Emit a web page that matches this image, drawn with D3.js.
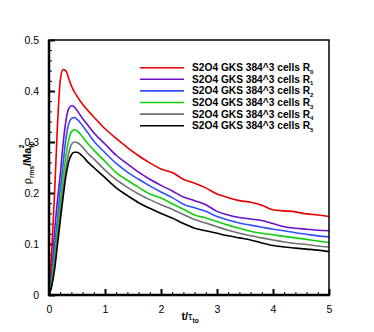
<!DOCTYPE html>
<html><head><meta charset="utf-8">
<script src="https://cdn.jsdelivr.net/npm/d3@7"></script>
<style>
body{margin:0;background:#fff;}
svg{display:block;font-family:"Liberation Sans",Arial,sans-serif;}
</style></head>
<body><svg id="c" width="374" height="332"></svg>
<script>
const tGrid = [0,0.05,0.1,0.15,0.2,0.25,0.3,0.35,0.4,0.45,0.5,0.6,0.7,0.8,1.0,1.2,1.4,1.6,1.8,2.0,2.2,2.4,2.6,2.8,3.0,3.2,3.4,3.6,3.8,4.0,4.2,4.4,4.6,4.8,5.0];
const R0 = [0,0.09,0.2,0.33,0.42,0.442,0.44,0.425,0.41,0.399,0.39,0.374,0.361,0.349,0.326,0.307,0.289,0.273,0.259,0.247,0.240,0.227,0.219,0.210,0.198,0.191,0.185,0.182,0.176,0.167,0.165,0.163,0.159,0.157,0.154];
const R1 = [0,0.045,0.125,0.185,0.235,0.295,0.34,0.365,0.371,0.369,0.362,0.346,0.332,0.318,0.296,0.274,0.257,0.241,0.227,0.215,0.204,0.192,0.185,0.177,0.164,0.157,0.152,0.149,0.146,0.140,0.134,0.131,0.129,0.127,0.126];
const R2 = [0,0.035,0.095,0.15,0.205,0.255,0.305,0.335,0.346,0.348,0.345,0.332,0.317,0.302,0.279,0.258,0.241,0.227,0.214,0.202,0.191,0.178,0.171,0.164,0.154,0.147,0.141,0.137,0.133,0.129,0.126,0.122,0.119,0.116,0.114];
const R3 = [0,0.028,0.075,0.13,0.18,0.228,0.27,0.303,0.32,0.324,0.322,0.31,0.296,0.284,0.262,0.24,0.225,0.211,0.198,0.19,0.179,0.168,0.157,0.151,0.144,0.137,0.131,0.125,0.121,0.118,0.115,0.112,0.109,0.106,0.103];
const R4 = [0,0.022,0.06,0.114,0.16,0.205,0.245,0.277,0.295,0.30,0.299,0.29,0.277,0.267,0.245,0.226,0.211,0.198,0.187,0.177,0.168,0.158,0.148,0.141,0.134,0.127,0.121,0.116,0.112,0.108,0.104,0.101,0.099,0.096,0.094];
const R5 = [0,0.018,0.05,0.097,0.145,0.19,0.232,0.26,0.275,0.28,0.28,0.272,0.26,0.25,0.23,0.21,0.195,0.181,0.17,0.16,0.151,0.14,0.131,0.126,0.121,0.116,0.112,0.108,0.102,0.097,0.094,0.092,0.09,0.088,0.085];
const seriesNames = ["0","1","2","3","4","5"];
const seriesColors = ["#e60000","#6a10c8","#3050ff","#10d010","#707070","#000000"];
const seriesValues = [R0,R1,R2,R3,R4,R5];
const xTicks = [0,1,2,3,4,5];
const yTicks = [0,0.1,0.2,0.3,0.4,0.5];

const svg = d3.select("#c");
const L=49, R=329, T=40, B=295;
const x = d3.scaleLinear().domain([0,5]).range([L,R]);
const y = d3.scaleLinear().domain([0,0.5]).range([B,T]);

// minor ticks
svg.append("g").attr("transform",`translate(0,${B})`)
  .call(d3.axisBottom(x).tickValues(d3.range(0,5.001,0.2)).tickSize(-3).tickFormat(""))
  .call(g=>{g.select(".domain").remove();g.selectAll("line").attr("stroke","#000").attr("stroke-width",1);});
svg.append("g").attr("transform",`translate(${L},0)`)
  .call(d3.axisLeft(y).tickValues(d3.range(0,0.5001,0.02)).tickSize(-3).tickFormat(""))
  .call(g=>{g.select(".domain").remove();g.selectAll("line").attr("stroke","#000").attr("stroke-width",1);});
// major ticks
svg.append("g").attr("transform",`translate(0,${B})`)
  .call(d3.axisBottom(x).tickValues(xTicks).tickSize(-6).tickPadding(11).tickFormat(d3.format("d")))
  .call(g=>{g.select(".domain").remove();g.selectAll("line").attr("stroke","#000").attr("stroke-width",2);
    g.selectAll("text").attr("font-size","10.5px").attr("fill","#000").attr("font-family","Liberation Sans, Arial, sans-serif");});
svg.append("g").attr("transform",`translate(${L},0)`)
  .call(d3.axisLeft(y).tickValues(yTicks).tickSize(-6).tickPadding(10).tickFormat(d=>d===0?"0":d3.format(".1f")(d)))
  .call(g=>{g.select(".domain").remove();g.selectAll("line").attr("stroke","#000").attr("stroke-width",2);
    g.selectAll("text").attr("font-size","10.5px").attr("fill","#000").attr("font-family","Liberation Sans, Arial, sans-serif");});

const line = d3.line().x(d=>x(d[0])).y(d=>y(d[1])).curve(d3.curveMonotoneX);
svg.append("clipPath").attr("id","cp").append("rect").attr("x",L).attr("y",T).attr("width",R-L).attr("height",B-T);
seriesValues.forEach((vals,i)=>{
  svg.append("path").attr("clip-path","url(#cp)")
    .datum(tGrid.map((t,j)=>[t,vals[j]]))
    .attr("d",line).attr("fill","none").attr("stroke",seriesColors[i]).attr("stroke-width",1.6);
});

// frame
svg.append("rect").attr("x",L).attr("y",T).attr("width",R-L).attr("height",B-T)
  .attr("fill","none").attr("stroke","#000").attr("stroke-width",1.5);
svg.append("line").attr("x1",L).attr("x2",L).attr("y1",T).attr("y2",B+1).attr("stroke","#000").attr("stroke-width",2.5);
svg.append("line").attr("x1",L-1).attr("x2",R+1).attr("y1",B).attr("y2",B).attr("stroke","#000").attr("stroke-width",2.5);

// legend
const lg = svg.append("g");
seriesNames.forEach((n,i)=>{
  const yy = 67.7 + i*11.6;
  lg.append("line").attr("x1",140).attr("x2",184).attr("y1",yy).attr("y2",yy).attr("stroke",seriesColors[i]).attr("stroke-width",1.6);
  const t = lg.append("text").attr("x",192).attr("y",yy+3.5).attr("font-size","10.2px").attr("font-weight","bold").attr("fill","#000");
  t.append("tspan").text("S2O4 GKS 384^3 cells R");
  t.append("tspan").attr("font-size","6px").attr("dy","2.5").text(n);
});

// axis titles
const xt = svg.append("text").attr("x",190).attr("y",320).attr("text-anchor","middle").attr("font-size","11px").attr("font-weight","bold").attr("fill","#000");
xt.append("tspan").text("t/");
xt.append("tspan").attr("font-weight","normal").text("τ");
xt.append("tspan").attr("font-size","6.5px").attr("dy","3").text("to");

const yt = svg.append("text").attr("transform","translate(31,163) rotate(-90)").attr("text-anchor","middle").attr("font-size","11px").attr("font-weight","bold").attr("fill","#000");
yt.append("tspan").attr("font-weight","normal").text("ρ");
yt.append("tspan").attr("font-size","6.5px").attr("dy","3").text("rms");
yt.append("tspan").attr("dy","-3").text("/Ma");
yt.append("tspan").attr("font-size","6.5px").attr("dy","3").text("t0");
yt.append("tspan").attr("font-size","6.5px").attr("dy","-10").attr("dx","-6.5").text("2");
</script></body></html>
